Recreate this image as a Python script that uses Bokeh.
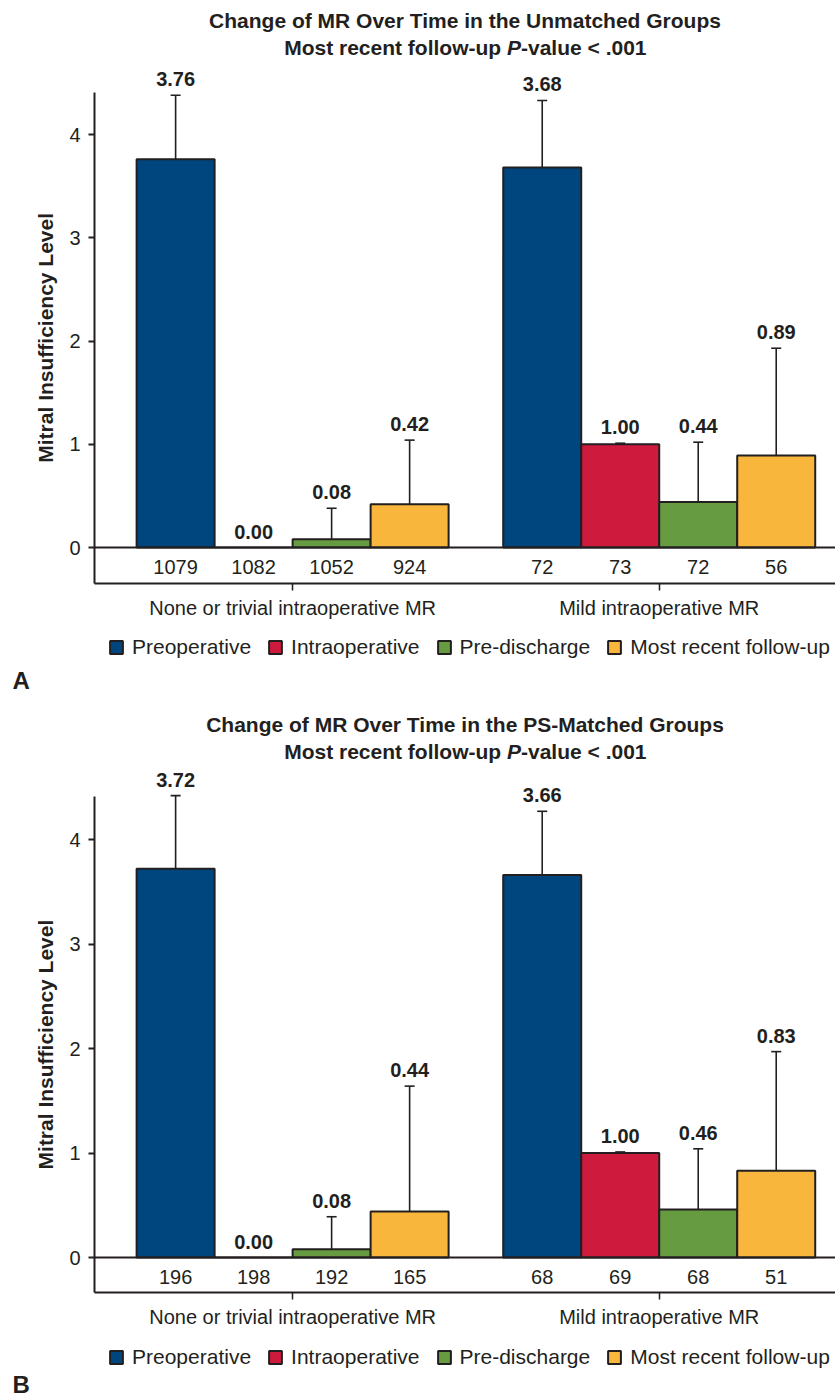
import math
from bokeh.plotting import figure
from bokeh.models import (ColumnDataSource, Whisker, TeeHead, FixedTicker,
                          Legend, LegendItem, CustomJSTickFormatter)
from bokeh.layouts import column
from bokeh.embed import file_html
from bokeh.resources import INLINE
from bokeh.core.properties import value

# ---------------- data ----------------
SERIES = ["Preoperative", "Intraoperative", "Pre-discharge", "Most recent follow-up"]
GROUPS = ["None or trivial intraoperative MR", "Mild intraoperative MR"]
COLORS = ["#00467E", "#CE1A3D", "#669B41", "#F9B63C"]

A_TITLE = "Change of MR Over Time in the Unmatched Groups"
A_NONE_MEAN = [3.76, 0.00, 0.08, 0.42]
A_NONE_SD = [0.62, 0.00, 0.30, 0.62]
A_NONE_N = [1079, 1082, 1052, 924]
A_MILD_MEAN = [3.68, 1.00, 0.44, 0.89]
A_MILD_SD = [0.65, 0.01, 0.58, 1.04]
A_MILD_N = [72, 73, 72, 56]

B_TITLE = "Change of MR Over Time in the PS-Matched Groups"
B_NONE_MEAN = [3.72, 0.00, 0.08, 0.44]
B_NONE_SD = [0.70, 0.00, 0.31, 1.20]
B_NONE_N = [196, 198, 192, 165]
B_MILD_MEAN = [3.66, 1.00, 0.46, 0.83]
B_MILD_SD = [0.61, 0.01, 0.58, 1.14]
B_MILD_N = [68, 69, 68, 51]

SUB_LEFT = "Most recent follow-up "
SUB_P = "P"
SUB_RIGHT = "-value < .001"
Y_TICKS = [0, 1, 2, 3, 4]
Y_LABEL = "Mitral Insufficiency Level"

# ---------------- style / layout ----------------
FONT = "Liberation Sans"
INK = "#231F20"
WIDTH = 835
PX_X = 78.0            # pixels per bar width
BAR_W = 1.0
GROUP_START = [0.0, 4.7]
AXIS_X = -0.54         # where the value axis stands
X_START = AXIS_X - 94 / PX_X
X_END = X_START + WIDTH / PX_X
AXIS_TOP = 4.41


def panel(title, means, sds, ns, letter, height, zero_px, ppu, box_px,
          legend_bottom, letter_up):
    y_end = zero_px / ppu
    y_start = -(height - zero_px) / ppu
    box_bottom = -(box_px - zero_px) / ppu
    p = figure(width=WIDTH, height=height,
               x_range=(X_START, X_END), y_range=(y_start, y_end),
               output_backend="svg", toolbar_location=None,
               min_border=0, min_border_left=0, min_border_right=0,
               min_border_top=0, min_border_bottom=0, outline_line_color=None)
    p.xgrid.visible = False
    p.ygrid.visible = False

    renderers = []
    wb, wl, wu = [], [], []
    lx, ly, lt = [], [], []
    cx, ct = [], []
    for i, s in enumerate(SERIES):
        xs = [GROUP_START[g] + i * BAR_W + BAR_W / 2 for g in range(len(GROUPS))]
        tops = [means[g][i] for g in range(len(GROUPS))]
        r = p.vbar(x=xs, top=tops, bottom=0, width=BAR_W,
                   fill_color=COLORS[i], line_color=INK, line_width=2)
        renderers.append(r)
        for g in range(len(GROUPS)):
            m, sd, n = means[g][i], sds[g][i], ns[g][i]
            if m > 0:
                wb.append(xs[g]); wl.append(m); wu.append(m + sd)
            lx.append(xs[g]); ly.append(m + sd); lt.append(f"{m:.2f}")
            cx.append(xs[g]); ct.append(str(n))

    wsrc = ColumnDataSource(dict(base=wb, lower=wl, upper=wu))
    p.add_layout(Whisker(source=wsrc, base="base", lower="lower", upper="upper",
                         dimension="height", line_color=INK, line_width=1.6,
                         upper_head=TeeHead(size=10, line_color=INK, line_width=1.6),
                         lower_head=None))
    # zero line
    p.segment(x0=[AXIS_X], y0=[0], x1=[X_END], y1=[0], line_color=INK, line_width=2)

    p.text(x=lx, y=ly, text=lt, text_font=value(FONT), text_font_size="20px",
           text_font_style="bold", text_color=INK, text_align="center",
           text_baseline="alphabetic", y_offset=-16)
    p.text(x=cx, y=[0] * len(cx), text=ct, text_font=value(FONT), text_font_size="20px",
           text_color=INK, text_align="center", text_baseline="alphabetic", y_offset=19)

    xc = (AXIS_X + X_END) / 2
    common = dict(text_font=value(FONT), text_font_size="21px", text_color=INK,
                  text_baseline="alphabetic")
    p.text(x=[xc], y=[AXIS_TOP], text=[title], text_font_style="bold",
           text_align="center", y_offset=-72, **common)
    p.text(x=[xc], y=[AXIS_TOP], text=[SUB_LEFT], text_font_style="bold",
           text_align="right", y_offset=-45, x_offset=42, **common)
    p.text(x=[xc], y=[AXIS_TOP], text=[SUB_P], text_font_style="bold italic",
           text_align="left", y_offset=-45, x_offset=42, **common)
    p.text(x=[xc], y=[AXIS_TOP], text=[SUB_RIGHT], text_font_style="bold",
           text_align="left", y_offset=-45, x_offset=56, **common)

    # y axis title (rotated), centred on the drawn value axis
    p.text(x=[X_START], y=[(box_bottom + AXIS_TOP) / 2], text=[Y_LABEL], angle=math.pi / 2,
           x_offset=45, text_font=value(FONT), text_font_size="21px",
           text_font_style="bold", text_color=INK, text_align="center",
           text_baseline="middle")
    # panel letter
    p.text(x=[X_START], y=[y_start], text=[letter], x_offset=12, y_offset=-letter_up,
           text_font=value(FONT), text_font_size="24px", text_font_style="bold",
           text_color=INK, text_align="left", text_baseline="alphabetic")

    # y axis
    ya = p.yaxis[0]
    ya.fixed_location = AXIS_X
    ya.ticker = FixedTicker(ticks=Y_TICKS)
    ya.bounds = (box_bottom, AXIS_TOP)
    ya.axis_line_width = 2
    ya.axis_line_color = INK
    ya.major_tick_line_width = 2
    ya.major_tick_line_color = INK
    ya.major_tick_out = 6
    ya.major_tick_in = 0
    ya.minor_tick_line_color = None
    ya.major_label_standoff = 8
    ya.major_label_text_font = FONT
    ya.major_label_text_font_size = "20px"
    ya.major_label_text_color = INK

    # x axis (bottom of the count box)
    centers = [GROUP_START[g] + len(SERIES) * BAR_W / 2 for g in range(len(GROUPS))]
    xa = p.xaxis[0]
    xa.fixed_location = box_bottom
    xa.bounds = (AXIS_X, X_END)
    xa.ticker = FixedTicker(ticks=centers)
    xa.formatter = CustomJSTickFormatter(args=dict(pos=centers, labels=GROUPS), code="""
        for (let i = 0; i < pos.length; i++) {
            if (Math.abs(pos[i] - tick) < 1e-6) return labels[i];
        }
        return "";
    """)
    xa.axis_line_width = 2
    xa.axis_line_color = INK
    xa.major_tick_line_width = 1.5
    xa.major_tick_line_color = INK
    xa.major_tick_out = 7
    xa.major_tick_in = 0
    xa.minor_tick_line_color = None
    xa.major_label_standoff = 6
    xa.major_label_text_font = FONT
    xa.major_label_text_font_size = "20px"
    xa.major_label_text_color = INK

    legend = Legend(items=[LegendItem(label=s, renderers=[r]) for s, r in zip(SERIES, renderers)],
                    orientation="horizontal", location=(108, legend_bottom),
                    glyph_width=16, glyph_height=16, label_standoff=8, spacing=16,
                    padding=0, margin=0, border_line_color=None,
                    background_fill_alpha=0, label_text_font=FONT,
                    label_text_font_size="21px", label_text_color=INK)
    p.add_layout(legend, "center")
    return p


pA = panel(A_TITLE, [A_NONE_MEAN, A_MILD_MEAN], [A_NONE_SD, A_MILD_SD],
           [A_NONE_N, A_MILD_N], "A", height=708, zero_px=547, ppu=103.25, box_px=583,
           legend_bottom=49, letter_up=28)
pB = panel(B_TITLE, [B_NONE_MEAN, B_MILD_MEAN], [B_NONE_SD, B_MILD_SD],
           [B_NONE_N, B_MILD_N], "B", height=690, zero_px=549, ppu=104.5, box_px=584,
           legend_bottom=29, letter_up=14)

layout = column(pA, pB, spacing=0)
open("out.html", "w").write(file_html(layout, INLINE))
